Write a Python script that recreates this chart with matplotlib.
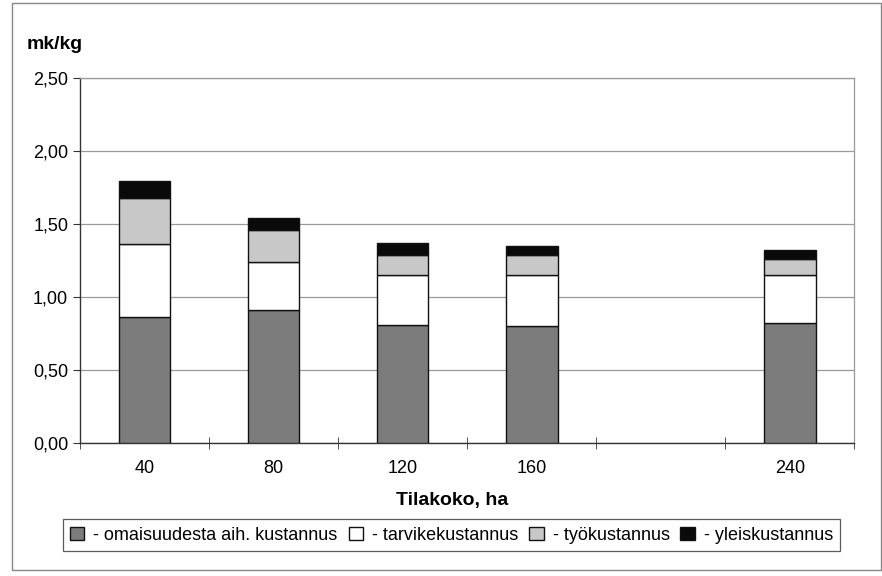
import matplotlib
matplotlib.use("Agg")
import matplotlib.pyplot as plt
import numpy as np
from matplotlib.patches import Rectangle

categories = ["40", "80", "120", "160", "", "240"]
omaisuus = [0.86, 0.91, 0.81, 0.80, np.nan, 0.82]
tarvike = [0.50, 0.33, 0.34, 0.35, np.nan, 0.33]
tyo = [0.32, 0.22, 0.14, 0.14, np.nan, 0.11]
yleis = [0.11, 0.08, 0.08, 0.06, np.nan, 0.06]
series_labels = ["- omaisuudesta aih. kustannus", "- tarvikekustannus",
                 "- työkustannus", "- yleiskustannus"]
yticks = [0.0, 0.5, 1.0, 1.5, 2.0, 2.5]

plt.rcParams['font.family'] = ['Liberation Sans', 'DejaVu Sans']

fig = plt.figure(figsize=(8.82, 5.76), dpi=100)
ax = fig.add_axes([0.0907, 0.231, 0.878, 0.634])

x = np.arange(len(categories))
colors = ["#7c7c7c", "#ffffff", "#c8c8c8", "#0a0a0a"]
data = [omaisuus, tarvike, tyo, yleis]
bottom = np.zeros(len(categories))
handles = []
for vals, col, lab in zip(data, colors, series_labels):
    v = np.array(vals, dtype=float)
    b = ax.bar(x, v, width=0.4, bottom=bottom, color=col, edgecolor="#111111",
               linewidth=1.0, label=lab, zorder=3)
    handles.append(b)
    bottom = bottom + v

ax.set_xlim(-0.5, len(categories) - 0.5)
ax.set_ylim(0, 2.5)
ax.set_yticks(yticks)
ax.set_yticklabels([f"{t:.2f}".replace(".", ",") for t in yticks], fontsize=13)
ax.yaxis.grid(True, color="#9a9a9a", linewidth=0.9, zorder=0)
ax.set_axisbelow(True)

ax.set_xticks(x)
ax.set_xticklabels(categories, fontsize=13)
ax.tick_params(axis="x", length=0, pad=12)
ax.set_xticks(np.arange(len(categories) + 1) - 0.5, minor=True)
ax.tick_params(axis="x", which="minor", direction="inout", length=8, color="#333333")
ax.tick_params(axis="y", direction="out", length=5, color="#333333")

for s in ["left", "bottom"]:
    ax.spines[s].set_color("#333333")
    ax.spines[s].set_linewidth(1.0)
for s in ["top", "right"]:
    ax.spines[s].set_color("#999999")
    ax.spines[s].set_linewidth(0.9)

ax.set_xlabel("Tilakoko, ha", fontsize=14, fontweight="bold")
ax.xaxis.set_label_coords(0.48, -0.135)
fig.text(0.03, 0.915, "mk/kg", fontsize=14, fontweight="bold")

leg = fig.legend(handles=handles, labels=series_labels, loc="center",
                 bbox_to_anchor=(0.512, 0.071), ncol=4, frameon=True,
                 fancybox=False, edgecolor="#333333", fontsize=13,
                 handlelength=0.8, handleheight=0.8, handletextpad=0.5,
                 columnspacing=0.6, borderpad=0.4)
leg.get_frame().set_linewidth(0.9)

fig.patches.append(Rectangle((0.014, 0.01), 0.985, 0.985, transform=fig.transFigure,
                             fill=False, edgecolor="#888888", linewidth=1.0))

fig.savefig("out.png", dpi=100)
